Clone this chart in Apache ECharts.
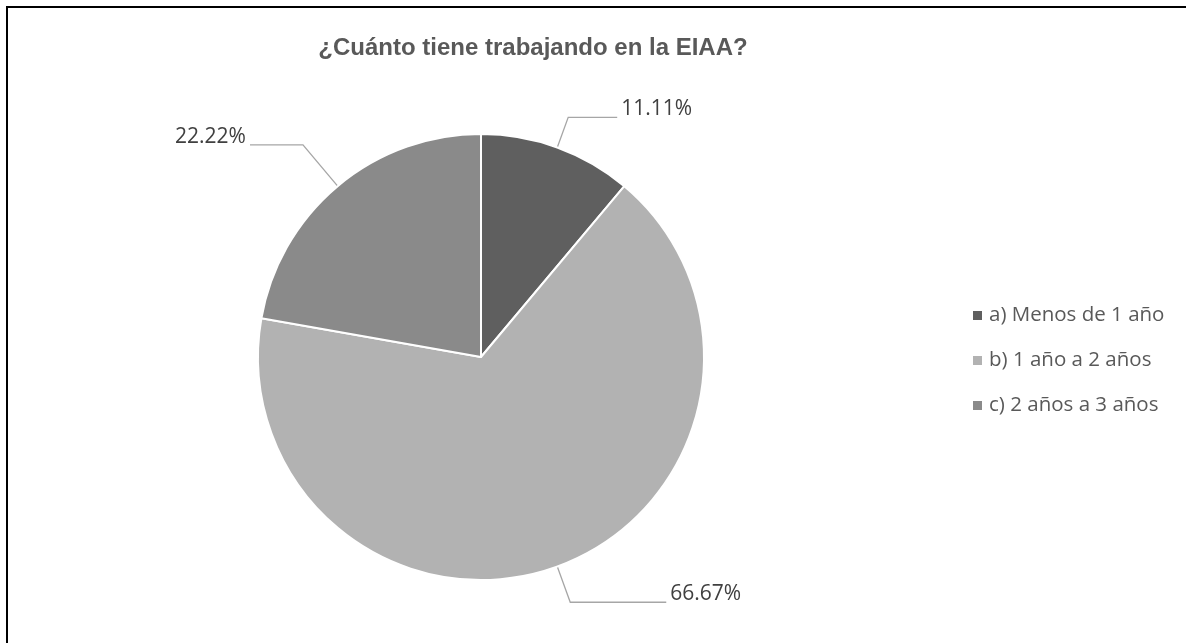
<!DOCTYPE html>
<html>
<head>
<meta charset="utf-8">
<style>
  html, body { margin: 0; padding: 0; background: #ffffff; overflow: hidden; }
  #wrap { position: relative; width: 1186px; height: 643px; overflow: hidden; }
  #frame { position: absolute; left: 6px; top: 6px; width: 1400px; height: 900px;
           border-left: 2px solid #000; border-top: 2px solid #000; pointer-events: none; }
  #chart { position: absolute; left: 0; top: 0; width: 1186px; height: 643px; }
</style>
<script src="https://cdn.jsdelivr.net/npm/echarts@6/dist/echarts.min.js"></script>
</head>
<body>
<div id="wrap">
<div id="chart"></div>
<div id="frame"></div>
</div>
<script>
const titleText = '¿Cuánto tiene trabajando en la EIAA?';
const categories = ['a) Menos de 1 año', 'b) 1 año a 2 años', 'c) 2 años a 3 años'];
const values = [11.11, 66.67, 22.22];
const colors = ['#5f5f5f', '#b2b2b2', '#8a8a8a'];
const lineLengths = [32, 38, 54];
const lineLengths2 = [49, 96, 53];

const chart = echarts.init(document.getElementById('chart'), null, { renderer: 'canvas' });

const data = categories.map((c, i) => ({
  name: c,
  value: values[i],
  itemStyle: { color: colors[i] },
  labelLine: { length: lineLengths[i], length2: lineLengths2[i] }
}));

chart.setOption({
  animation: false,
  backgroundColor: '#ffffff',
  title: {
    text: titleText,
    left: 528,
    textAlign: 'center',
    top: 31,
    textStyle: {
      fontFamily: 'Liberation Sans, Arial, sans-serif',
      fontWeight: 'bold',
      fontSize: 24,
      color: '#595959'
    }
  },
  legend: {
    orient: 'vertical',
    left: 968,
    top: 300,
    icon: 'rect',
    itemWidth: 9,
    itemHeight: 9,
    itemGap: 24,
    data: categories,
    itemStyle: { borderWidth: 0 },
    textStyle: {
      fontFamily: 'Open Sans, sans-serif',
      fontSize: 20.5,
      color: '#595959',
      padding: [0, 0, 0, 2]
    }
  },
  series: [{
    type: 'pie',
    center: [481, 357],
    radius: 223,
    startAngle: 90,
    clockwise: true,
    avoidLabelOverlap: false,
    data: data,
    itemStyle: { borderColor: '#ffffff', borderWidth: 2 },
    label: {
      show: true,
      formatter: p => p.value.toFixed(2) + '%\n ',
      fontFamily: 'Open Sans, sans-serif',
      fontSize: 21,
      lineHeight: 16,
      color: '#404040',
      distanceToLabelLine: 4
    },
    labelLine: {
      show: true,
      lineStyle: { color: '#a6a6a6', width: 1.3 }
    },
    emphasis: { disabled: true }
  }]
});
</script>
</body>
</html>
